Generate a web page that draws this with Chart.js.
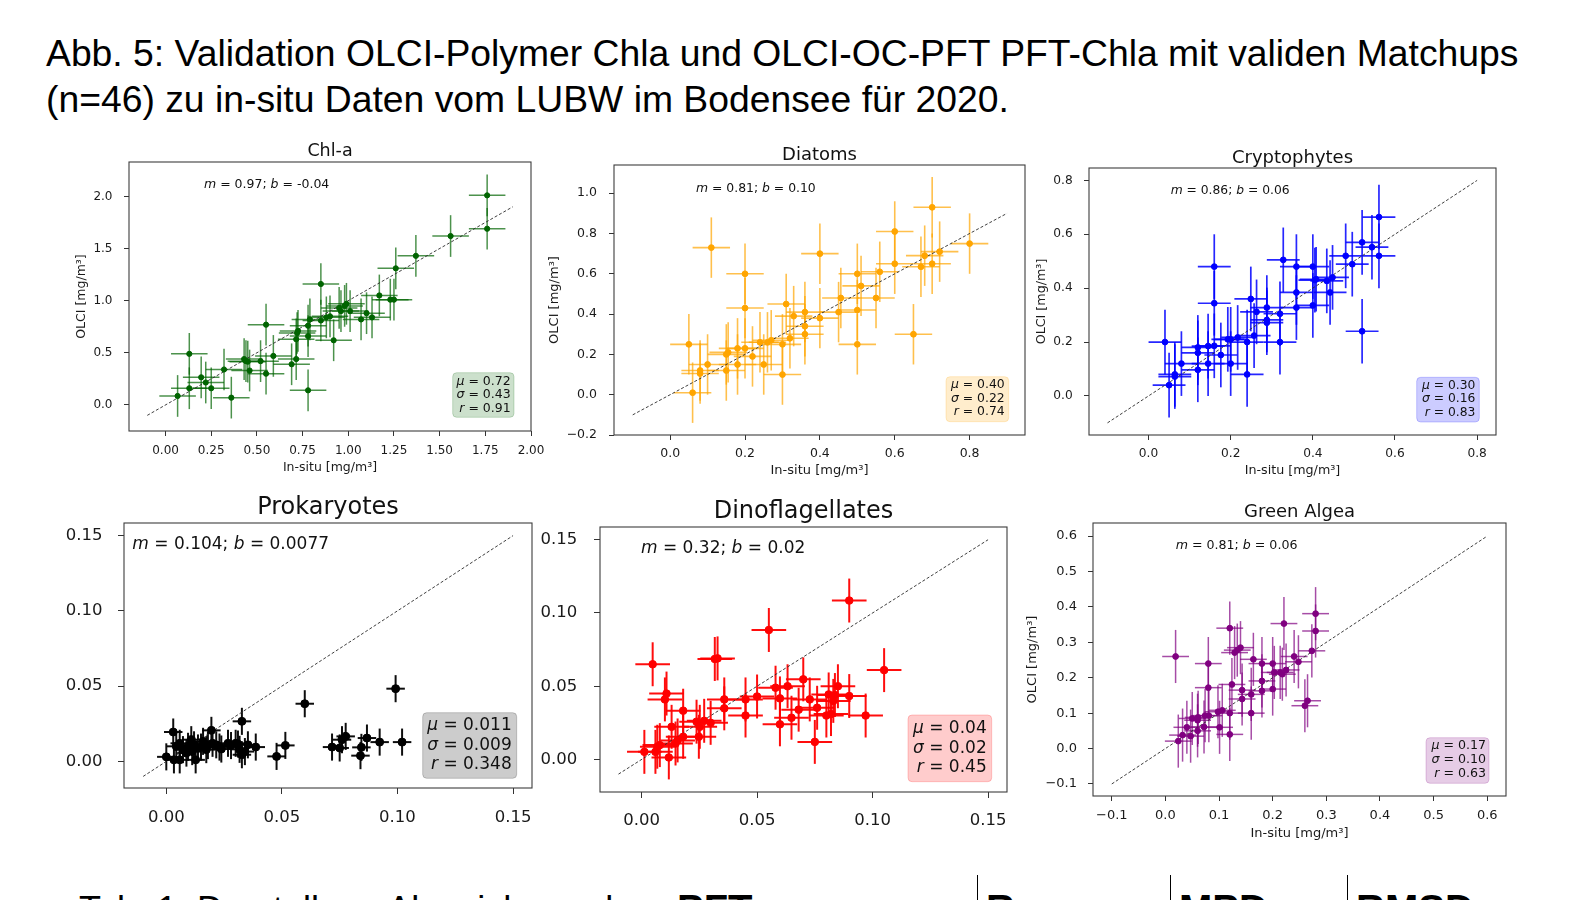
<!DOCTYPE html>
<html lang="de">
<head>
<meta charset="utf-8">
<title>Abb. 5 – Validation OLCI PFT-Chla</title>
<script src="https://cdn.jsdelivr.net/npm/chart.js@4.4.1/dist/chart.umd.min.js"></script>
<style>
  html, body { margin: 0; padding: 0; background: #fff; }
  body { width: 1590px; height: 900px; position: relative; overflow: hidden;
         font-family: "Liberation Sans", Arial, sans-serif; color: #000; }
  .heading { position: absolute; left: 46px; top: 31px; font-size: 37.3px; line-height: 45.6px; white-space: nowrap; }
  .tab { position: absolute; top: 892px; left: 79px; font-size: 36px; line-height: 36px; white-space: nowrap; }
  .tabhead { position: absolute; top: 889px; font-size: 40px; line-height: 40px; font-weight: bold; white-space: nowrap; }
  .cell { position: absolute; top: 875px; height: 40px; width: 0; border-left: 1.5px solid #000; }
  canvas { position: absolute; }
</style>
</head>
<body>
<div class="heading">Abb. 5: Validation OLCI-Polymer Chla und OLCI-OC-PFT PFT-Chla mit validen Matchups<br>(n=46) zu in-situ Daten vom LUBW im Bodensee für 2020.</div>

<div id="panels"></div>

<div class="tab">Tab. 1: Darstellung Abweichung der</div>
<div class="tabhead" style="left:677px">PFT</div>
<div class="cell" style="left:977px"></div>
<div class="tabhead" style="left:986px">R</div>
<div class="cell" style="left:1170px"></div>
<div class="tabhead" style="left:1179px">MPD</div>
<div class="cell" style="left:1347px"></div>
<div class="tabhead" style="left:1356px">RMSD</div>

<script>
// Matchups (in-situ x, OLCI y)
const chlaX = [0.066, 0.13, 0.13, 0.195, 0.22, 0.25, 0.32, 0.36, 0.43, 0.45, 0.46, 0.52, 0.55, 0.55, 0.59, 0.69, 0.715, 0.715, 0.72, 0.725, 0.78, 0.78, 0.78, 0.79, 0.85, 0.85, 0.90, 0.92, 0.95, 0.98, 0.99, 1.01, 1.07, 1.10, 1.13, 1.17, 1.23, 1.25, 1.26, 1.37, 1.56, 1.76, 1.76, 0.44, 0.96, 0.88];
const chlaY = [0.086, 0.49, 0.16, 0.265, 0.215, 0.16, 0.34, 0.07, 0.44, 0.415, 0.33, 0.42, 0.77, 0.30, 0.47, 0.39, 0.44, 0.63, 0.69, 0.71, 0.76, 0.66, 0.14, 0.82, 0.81, 1.16, 0.85, 0.62, 0.93, 0.95, 0.97, 0.90, 0.82, 0.88, 0.84, 1.05, 1.01, 1.01, 1.31, 1.43, 1.62, 2.01, 1.69, 0.42, 0.90, 0.84];
const chlaErr = [0.10, 0.20];          // half width of x / y error bars
const chlaFit = [0.97, -0.04];         // m, b
const chlaStats = [0.72, 0.43, 0.91];  // mu, sigma, r
const chlaTicksX = [0, 0.25, 0.5, 0.75, 1.0, 1.25, 1.5, 1.75, 2.0];
const chlaTicksY = [0, 0.5, 1.0, 1.5, 2.0];
const chlaDiag = [-0.1, 1.9];

const diaX = [0.05, 0.06, 0.08, 0.08, 0.10, 0.11, 0.15, 0.15, 0.18, 0.18, 0.20, 0.20, 0.20, 0.22, 0.24, 0.25, 0.27, 0.30, 0.30, 0.31, 0.32, 0.33, 0.36, 0.36, 0.36, 0.40, 0.40, 0.45, 0.456, 0.50, 0.50, 0.50, 0.51, 0.55, 0.56, 0.60, 0.60, 0.65, 0.67, 0.68, 0.70, 0.70, 0.72, 0.80, 0.155, 0.26];
const diaY = [0.25, 0.01, 0.12, 0.105, 0.15, 0.73, 0.20, 0.12, 0.23, 0.15, 0.60, 0.43, 0.23, 0.19, 0.26, 0.15, 0.27, 0.25, 0.10, 0.45, 0.28, 0.39, 0.41, 0.34, 0.30, 0.70, 0.38, 0.41, 0.48, 0.60, 0.42, 0.25, 0.54, 0.48, 0.61, 0.81, 0.65, 0.30, 0.635, 0.69, 0.93, 0.65, 0.71, 0.75, 0.21, 0.26];
const diaErr = [0.05, 0.15];
const diaFit = [0.81, 0.10];
const diaStats = [0.40, 0.22, 0.74];
const diaTicksX = [0, 0.2, 0.4, 0.6, 0.8];
const diaTicksY = [-0.2, 0, 0.2, 0.4, 0.6, 0.8, 1.0];
const diaDiag = [-0.1, 0.9];

const cryX = [0.04, 0.05, 0.064, 0.064, 0.08, 0.12, 0.12, 0.12, 0.145, 0.145, 0.16, 0.16, 0.16, 0.176, 0.193, 0.20, 0.20, 0.217, 0.24, 0.24, 0.249, 0.257, 0.263, 0.288, 0.288, 0.288, 0.32, 0.32, 0.328, 0.36, 0.36, 0.36, 0.40, 0.40, 0.408, 0.434, 0.442, 0.448, 0.48, 0.496, 0.52, 0.52, 0.544, 0.561, 0.561, 0.405];
const cryY = [0.20, 0.04, 0.08, 0.072, 0.12, 0.18, 0.16, 0.097, 0.185, 0.12, 0.48, 0.344, 0.186, 0.152, 0.21, 0.21, 0.12, 0.217, 0.20, 0.08, 0.36, 0.224, 0.312, 0.328, 0.282, 0.272, 0.305, 0.20, 0.505, 0.48, 0.384, 0.328, 0.48, 0.336, 0.433, 0.427, 0.384, 0.44, 0.52, 0.489, 0.57, 0.24, 0.552, 0.664, 0.52, 0.43];
const cryErr = [0.04, 0.12];
const cryFit = [0.86, 0.06];
const cryStats = [0.30, 0.16, 0.83];
const cryTicks = [0, 0.2, 0.4, 0.6, 0.8];
const cryDiag = [-0.1, 0.8];

const proX = [0.000, 0.003, 0.0033, 0.0058, 0.0058, 0.0087, 0.0094, 0.0108, 0.012, 0.0127, 0.0137, 0.0159, 0.0173, 0.0195, 0.020, 0.0216, 0.0238, 0.0267, 0.030, 0.0317, 0.0327, 0.0327, 0.0353, 0.0387, 0.0477, 0.0515, 0.0599, 0.0717, 0.075, 0.076, 0.0776, 0.084, 0.0844, 0.0868, 0.0923, 0.0992, 0.102, 0.0043, 0.0072, 0.0112, 0.015, 0.018, 0.023, 0.028, 0.031, 0.034];
const proY = [0.003, 0.0195, 0.001, 0.001, 0.012, 0.0055, 0.010, 0.0144, 0.011, 0.001, 0.0089, 0.0133, 0.0078, 0.0206, 0.012, 0.011, 0.0082, 0.012, 0.012, 0.008, 0.0266, 0.0044, 0.011, 0.0095, 0.0033, 0.0106, 0.0383, 0.0095, 0.0089, 0.0144, 0.0166, 0.0038, 0.0093, 0.0155, 0.0128, 0.0483, 0.0128, 0.010, 0.0078, 0.0065, 0.0095, 0.0105, 0.0095, 0.0105, 0.0115, 0.0065];
const proErr = [0.004, 0.009];
const proFit = [0.104, 0.0077];
const proStats = [0.011, 0.009, 0.348];
const smallTicks = [0, 0.05, 0.10, 0.15];
const smallDiag = [-0.01, 0.15];

const dinX = [0.0012, 0.0048, 0.006, 0.0068, 0.0079, 0.0101, 0.0108, 0.0118, 0.013, 0.0147, 0.0156, 0.018, 0.018, 0.0238, 0.0248, 0.0252, 0.0271, 0.0299, 0.0317, 0.0329, 0.0358, 0.0358, 0.045, 0.045, 0.050, 0.0551, 0.058, 0.0599, 0.0599, 0.0632, 0.0649, 0.068, 0.070, 0.0728, 0.075, 0.076, 0.080, 0.081, 0.082, 0.0837, 0.085, 0.0899, 0.0899, 0.097, 0.105, 0.083];
const dinY = [0.0052, 0.065, 0.0052, 0.0087, 0.0098, 0.041, 0.045, 0.0014, 0.0223, 0.0109, 0.013, 0.0333, 0.0155, 0.0258, 0.0155, 0.0223, 0.0264, 0.025, 0.0686, 0.069, 0.041, 0.0349, 0.041, 0.030, 0.043, 0.0884, 0.049, 0.0417, 0.024, 0.050, 0.0285, 0.034, 0.0547, 0.041, 0.012, 0.0353, 0.030, 0.0444, 0.031, 0.044, 0.050, 0.1085, 0.0433, 0.030, 0.061, 0.040];
const dinErr = [0.0075, 0.015];
const dinFit = [0.32, 0.02];
const dinStats = [0.04, 0.02, 0.45];

const greX = [0.019, 0.024, 0.032, 0.04, 0.047, 0.06, 0.06, 0.061, 0.072, 0.074, 0.08, 0.08, 0.081, 0.098, 0.101, 0.106, 0.12, 0.12, 0.12, 0.124, 0.129, 0.134, 0.14, 0.143, 0.143, 0.16, 0.16, 0.164, 0.18, 0.18, 0.18, 0.20, 0.20, 0.203, 0.214, 0.218, 0.221, 0.225, 0.24, 0.248, 0.26, 0.265, 0.273, 0.28, 0.28, 0.05];
const greY = [0.26, 0.021, 0.038, 0.06, 0.035, 0.05, 0.08, 0.088, 0.061, 0.093, 0.24, 0.172, 0.093, 0.104, 0.06, 0.108, 0.34, 0.10, 0.04, 0.181, 0.271, 0.278, 0.285, 0.165, 0.14, 0.153, 0.10, 0.252, 0.24, 0.191, 0.163, 0.24, 0.168, 0.215, 0.215, 0.21, 0.353, 0.222, 0.26, 0.245, 0.121, 0.135, 0.276, 0.381, 0.332, 0.085];
const greErr = [0.025, 0.075];
const greFit = [0.81, 0.06];
const greStats = [0.17, 0.10, 0.63];
const greTicks = [-0.1, 0, 0.1, 0.2, 0.3, 0.4, 0.5, 0.6];
const greDiag = [-0.1, 0.6];

const FONT = "'DejaVu Sans', sans-serif";
Chart.defaults.font.family = FONT;
Chart.defaults.color = '#1a1a1a';

// layout of the six panels (page pixels)
const panels = [
  { title: 'Chl-a', color: [0, 100, 0], x: chlaX, y: chlaY, err: chlaErr, fit: chlaFit, fitDigits: [2, 2],
    stats: chlaStats, statDigits: 2, ticksX: chlaTicksX, ticksY: chlaTicksY, decX: 2, decY: 1, diag: chlaDiag,
    xMin: -0.2, xMax: 2.0, yMin: -0.25, yMax: 2.33,
    box: [129, 162, 531, 431], titleY: 151, titleSize: 17.5, tickSize: 12, tickLen: 5, yGap: 16.5, xGap: 19.7,
    labelSize: 12.5, xLabelY: 467.7, yLabelX: 81.7, fitPos: [204, 184.3], textSize: 12.5,
    statBox: [452.7, 372.7, 514, 417.3], statLines: [381.7, 395, 408.3], statRight: 510.7,
    radius: 2.6, barWidth: 1.5, barAlpha: 0.7 },
  { title: 'Diatoms', color: [255, 165, 0], x: diaX, y: diaY, err: diaErr, fit: diaFit, fitDigits: [2, 2],
    stats: diaStats, statDigits: 2, ticksX: diaTicksX, ticksY: diaTicksY, decX: 1, decY: 1, diag: diaDiag,
    xMin: -0.15, xMax: 0.948, yMin: -0.2, yMax: 1.14,
    box: [614, 165, 1025, 435], titleY: 155, titleSize: 18, tickSize: 12.5, tickLen: 5, yGap: 17, xGap: 18.7,
    labelSize: 13, xLabelY: 470, yLabelX: 555, fitPos: [696, 188.3], textSize: 12.4,
    statBox: [946, 376.7, 1008.7, 421.7], statLines: [385, 398.3, 411.7], statRight: 1004.7,
    radius: 2.9, barWidth: 1.6, barAlpha: 0.7 },
  { title: 'Cryptophytes', color: [0, 0, 255], x: cryX, y: cryY, err: cryErr, fit: cryFit, fitDigits: [2, 2],
    stats: cryStats, statDigits: 2, ticksX: cryTicks, ticksY: cryTicks, decX: 1, decY: 1, diag: cryDiag,
    xMin: -0.145, xMax: 0.846, yMin: -0.145, yMax: 0.846,
    box: [1089, 168, 1496, 435], titleY: 158, titleSize: 18, tickSize: 12.2, tickLen: 5, yGap: 16.3, xGap: 19,
    labelSize: 12.7, xLabelY: 470, yLabelX: 1041.7, fitPos: [1170.7, 191], textSize: 12.3,
    statBox: [1416.7, 377.3, 1479.3, 422], statLines: [386, 399.3, 412.7], statRight: 1475.3,
    radius: 2.9, barWidth: 1.7, barAlpha: 0.85 },
  { title: 'Prokaryotes', color: [0, 0, 0], x: proX, y: proY, err: proErr, fit: proFit, fitDigits: [3, 4],
    stats: proStats, statDigits: 3, ticksX: smallTicks, ticksY: smallTicks, decX: 2, decY: 2, diag: smallDiag,
    xMin: -0.0183, xMax: 0.1582, yMin: -0.0177, yMax: 0.1584,
    box: [124, 523, 532, 788], titleY: 508, titleSize: 24, tickSize: 16.5, tickLen: 6, yGap: 21.6, xGap: 30,
    fitPos: [132.3, 544.3], textSize: 17,
    statBox: [422.7, 712.7, 516.7, 778.3], statLines: [726, 745.7, 765], statRight: 511.7,
    radius: 4, barWidth: 2, barAlpha: 0.95 },
  { title: 'Dinoflagellates', color: [255, 0, 0], x: dinX, y: dinY, err: dinErr, fit: dinFit, fitDigits: [2, 2],
    stats: dinStats, statDigits: 2, ticksX: smallTicks, ticksY: smallTicks, decX: 2, decY: 2, diag: smallDiag,
    xMin: -0.018, xMax: 0.1582, yMin: -0.0222, yMax: 0.1587,
    box: [600, 527, 1007, 792], titleY: 511.7, titleSize: 24, tickSize: 16.5, tickLen: 6, yGap: 22.7, xGap: 28.3,
    fitPos: [641, 548.3], textSize: 17,
    statBox: [908, 715, 991.7, 781.7], statLines: [728.3, 748.3, 767.3], statRight: 986.7,
    radius: 3.8, barWidth: 2, barAlpha: 0.95 },
  { title: 'Green Algea', color: [128, 0, 128], x: greX, y: greY, err: greErr, fit: greFit, fitDigits: [2, 2],
    stats: greStats, statDigits: 2, ticksX: greTicks, ticksY: greTicks, decX: 1, decY: 1, diag: greDiag,
    xMin: -0.135, xMax: 0.635, yMin: -0.134, yMax: 0.637,
    box: [1093, 523, 1506, 796], titleY: 512, titleSize: 18, tickSize: 13, tickLen: 5, yGap: 16, xGap: 20,
    labelSize: 13, xLabelY: 832.7, yLabelX: 1033, fitPos: [1175.7, 546], textSize: 12.6,
    statBox: [1426, 737.7, 1489, 783.3], statLines: [746, 760, 773.3], statRight: 1486,
    radius: 2.9, barWidth: 1.5, barAlpha: 0.7 }
];

function rgba(c, a) {
  return `rgba(${c[0]},${c[1]},${c[2]},${a})`;
}

// matplotlib style: real minus sign in tick labels
function fmtTick(v, d) {
  return Number(v).toFixed(d).replace('-', '\u2212');
}

// draws text parts [text, italic] one after the other, left or right aligned
function drawParts(ctx, parts, x, y, size, align) {
  const fonts = parts.map((part) => (part[1] ? 'italic ' : '') + size + 'px ' + FONT);
  const widths = parts.map((part, i) => {
    ctx.font = fonts[i];
    return ctx.measureText(part[0]).width;
  });
  let cx = align === 'right' ? x - widths.reduce((a, b) => a + b, 0) : x;
  ctx.textAlign = 'left';
  ctx.textBaseline = 'middle';
  parts.forEach((part, i) => {
    ctx.font = fonts[i];
    ctx.fillText(part[0], cx, y);
    cx += widths[i];
  });
}

function makePanel(p) {
  const [bl, bt, br, bb] = p.box;
  const left = Math.round(p.yLabelX ? p.yLabelX - 0.6 * p.labelSize : bl - 80);
  const top = Math.round(p.titleY - p.titleSize);
  const bottom = Math.round(p.xLabelY ? p.xLabelY + 0.6 * p.labelSize : bb + p.xGap + p.tickSize);
  const right = br + 24;

  const canvas = document.createElement('canvas');
  canvas.width = right - left;
  canvas.height = bottom - top;
  canvas.style.left = left + 'px';
  canvas.style.top = top + 'px';
  canvas.style.width = canvas.width + 'px';
  canvas.style.height = canvas.height + 'px';
  document.getElementById('panels').appendChild(canvas);

  const solid = rgba(p.color, 1);
  const points = p.x.map((xv, i) => ({ x: xv, y: p.y[i] }));
  const diag = p.diag.map((v) => ({ x: v, y: v }));

  // error bars, frame, title and text boxes
  const decor = {
    id: 'decor',
    beforeDatasetsDraw(chart) {
      const { ctx, chartArea: a, scales } = chart;
      ctx.save();
      ctx.beginPath();
      ctx.rect(a.left, a.top, a.width, a.height);
      ctx.clip();
      ctx.strokeStyle = rgba(p.color, p.barAlpha);
      ctx.lineWidth = p.barWidth;
      p.x.forEach((xv, i) => {
        const yv = p.y[i];
        const px = scales.x.getPixelForValue(xv);
        const py = scales.y.getPixelForValue(yv);
        ctx.beginPath();
        ctx.moveTo(scales.x.getPixelForValue(xv - p.err[0]), py);
        ctx.lineTo(scales.x.getPixelForValue(xv + p.err[0]), py);
        ctx.stroke();
        ctx.beginPath();
        ctx.moveTo(px, scales.y.getPixelForValue(yv - p.err[1]));
        ctx.lineTo(px, scales.y.getPixelForValue(yv + p.err[1]));
        ctx.stroke();
      });
      ctx.restore();
    },
    afterDatasetsDraw(chart) {
      const { ctx, chartArea: a } = chart;
      ctx.save();
      ctx.strokeStyle = '#3c3c3c';
      ctx.lineWidth = 1.1;
      ctx.strokeRect(a.left, a.top, a.width, a.height);

      ctx.fillStyle = '#111';
      ctx.font = p.titleSize + 'px ' + FONT;
      ctx.textAlign = 'center';
      ctx.textBaseline = 'middle';
      ctx.fillText(p.title, (a.left + a.right) / 2, p.titleY - top);

      const m = p.fit[0].toFixed(p.fitDigits[0]);
      const b = p.fit[1].toFixed(p.fitDigits[1]);
      drawParts(ctx, [['m', true], [' = ' + m + '; ', false], ['b', true], [' = ' + b, false]],
        p.fitPos[0] - left, p.fitPos[1] - top, p.textSize, 'left');

      const [sx0, sy0, sx1, sy1] = p.statBox;
      ctx.beginPath();
      ctx.roundRect(sx0 - left, sy0 - top, sx1 - sx0, sy1 - sy0, 4);
      ctx.fillStyle = rgba(p.color, 0.2);
      ctx.fill();
      ctx.strokeStyle = rgba(p.color, 0.2);
      ctx.lineWidth = 1;
      ctx.stroke();

      ctx.fillStyle = '#111';
      const symbols = ['\u03bc', '\u03c3', 'r'];
      p.stats.forEach((v, i) => {
        drawParts(ctx, [[symbols[i], true], [' = ' + v.toFixed(p.statDigits), false]],
          p.statRight - left, p.statLines[i] - top, p.textSize, 'right');
      });
      ctx.restore();
    }
  };

  const tickGrid = { drawOnChartArea: false, drawTicks: true, tickLength: p.tickLen, tickColor: '#333', tickWidth: 1 };

  return new Chart(canvas, {
    type: 'scatter',
    data: {
      datasets: [
        { data: points, backgroundColor: solid, borderColor: solid, pointRadius: p.radius, pointHoverRadius: p.radius, order: 0 },
        { data: diag, showLine: true, borderColor: '#2a2a2a', borderWidth: 0.9, borderDash: [3, 2], pointRadius: 0, order: 1 }
      ]
    },
    options: {
      responsive: false,
      animation: false,
      events: [],
      layout: { padding: { top: bt - top, right: right - br, left: 0, bottom: 0 } },
      plugins: { legend: { display: false }, tooltip: { enabled: false } },
      scales: {
        x: {
          type: 'linear', min: p.xMin, max: p.xMax,
          afterBuildTicks: (s) => { s.ticks = p.ticksX.map((v) => ({ value: v })); },
          afterFit: (s) => { s.height = bottom - bb; },
          grid: tickGrid,
          border: { display: false },
          ticks: {
            font: { size: p.tickSize }, maxRotation: 0, autoSkip: false,
            padding: p.xGap - p.tickLen - 0.6 * p.tickSize,
            callback: (v) => fmtTick(v, p.decX)
          },
          title: { display: !!p.xLabelY, text: 'In-situ [mg/m³]', font: { size: p.labelSize }, padding: 0 }
        },
        y: {
          type: 'linear', min: p.yMin, max: p.yMax,
          afterBuildTicks: (s) => { s.ticks = p.ticksY.map((v) => ({ value: v })); },
          afterFit: (s) => { s.width = bl - left; },
          grid: tickGrid,
          border: { display: false },
          ticks: {
            font: { size: p.tickSize }, autoSkip: false,
            padding: p.yGap - p.tickLen,
            callback: (v) => fmtTick(v, p.decY)
          },
          title: { display: !!p.yLabelX, text: 'OLCI [mg/m³]', font: { size: p.labelSize }, padding: 0 }
        }
      }
    },
    plugins: [decor]
  });
}

document.addEventListener('DOMContentLoaded', () => {
  panels.forEach(makePanel);
});
</script>
</body>
</html>
